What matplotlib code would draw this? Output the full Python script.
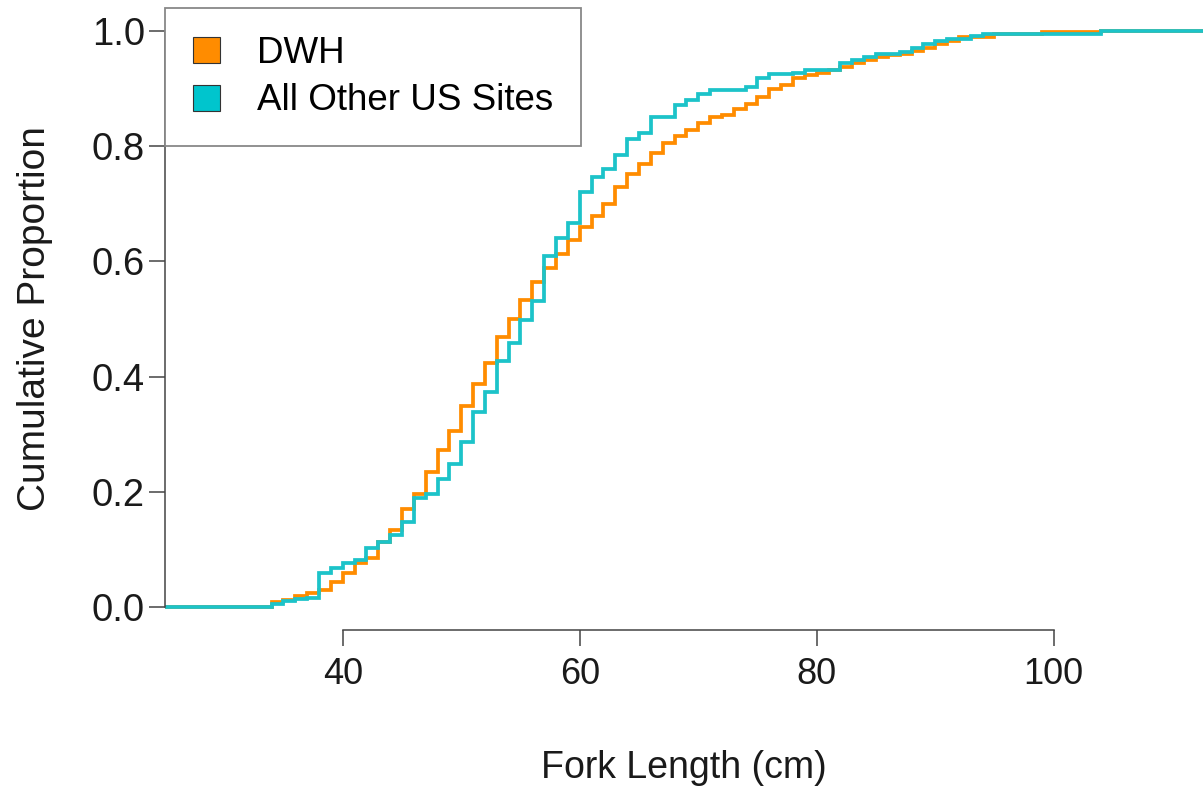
import numpy as np
import matplotlib
matplotlib.use("Agg")
from matplotlib import pyplot as plt
from matplotlib.patches import Patch

plt.rcParams['font.family'] = ['Liberation Sans', 'DejaVu Sans']

# fork length (cm) where each ECDF steps up, and the cumulative proportion after the step
dwh_len = [34, 35, 36, 37, 38, 39, 40, 41, 42, 43, 44, 45, 46, 47, 48, 49, 50,
           51, 52, 53, 54, 55, 56, 57, 58, 59, 60, 61, 62, 63, 64, 65, 66, 67,
           68, 69, 70, 71, 72, 73, 74, 75, 76, 77, 78, 79, 80, 81, 82, 83, 84,
           85, 86, 87, 88, 89, 90, 91, 92, 95, 99, 104]
dwh_cum = [0.009, 0.012, 0.019, 0.025, 0.030, 0.044, 0.059, 0.076, 0.085, 0.112,
           0.134, 0.170, 0.196, 0.235, 0.273, 0.305, 0.349, 0.388, 0.424, 0.468,
           0.500, 0.533, 0.565, 0.588, 0.612, 0.638, 0.660, 0.678, 0.700, 0.730,
           0.752, 0.770, 0.789, 0.805, 0.818, 0.828, 0.840, 0.851, 0.855, 0.865,
           0.874, 0.885, 0.900, 0.906, 0.918, 0.924, 0.928, 0.932, 0.937, 0.945,
           0.950, 0.955, 0.958, 0.960, 0.965, 0.970, 0.978, 0.983, 0.990, 0.995,
           0.998, 1.000]

other_len = [34, 35, 36, 37, 38, 39, 40, 41, 42, 43, 44, 45, 46, 47, 48, 49, 50,
             51, 52, 53, 54, 55, 56, 57, 58, 59, 60, 61, 62, 63, 64, 65, 66, 68,
             69, 70, 71, 74, 75, 76, 78, 79, 82, 83, 84, 85, 87, 88, 89, 90, 91,
             93, 94, 104]
other_cum = [0.005, 0.011, 0.014, 0.016, 0.059, 0.068, 0.076, 0.082, 0.103, 0.112,
             0.125, 0.147, 0.190, 0.196, 0.223, 0.249, 0.287, 0.339, 0.374, 0.427,
             0.458, 0.499, 0.531, 0.610, 0.641, 0.666, 0.721, 0.746, 0.760, 0.784,
             0.813, 0.823, 0.850, 0.872, 0.881, 0.891, 0.897, 0.902, 0.919, 0.925,
             0.928, 0.933, 0.944, 0.949, 0.955, 0.960, 0.964, 0.971, 0.977, 0.982,
             0.987, 0.991, 0.995, 1.000]

orange = '#FF8C00'
teal = '#1CC3C9'

fig = plt.figure(figsize=(12.03, 7.88), dpi=100)
ax = fig.add_axes([165/1203, 1-630/788, 1038/1203, 622/788])
xmin, xmax = 25, 112.6
ax.set_xlim(xmin, xmax)
ax.set_ylim(-0.04, 1.04)

# pad each curve out to the plot edges like R's plot.ecdf
for lens, cum, col in [(dwh_len, dwh_cum, orange), (other_len, other_cum, teal)]:
    xs = [xmin - 5] + list(lens) + [xmax + 5]
    ys = [0.0] + list(cum) + [1.0]
    ax.step(xs, ys, where='post', color=col, lw=2.7, solid_joinstyle='miter')

for s in ['top', 'right']:
    ax.spines[s].set_visible(False)
ax.spines['left'].set_bounds(0, 1)
ax.spines['bottom'].set_bounds(40, 100)
for s in ['left', 'bottom']:
    ax.spines[s].set_color('#444444')
    ax.spines[s].set_linewidth(1.1)

ax.set_xticks([40, 60, 80, 100])
ax.set_yticks(np.arange(0, 1.01, 0.2))
ax.set_yticklabels(['%.1f' % v for v in np.arange(0, 1.01, 0.2)])
ax.tick_params(axis='both', direction='out', length=11.5, width=1.1,
               color='#444444', labelcolor='#1a1a1a')
ax.tick_params(axis='x', pad=8, labelsize=26)
ax.tick_params(axis='y', pad=3, labelsize=27.5)

ax.set_xlabel('Fork Length (cm)', fontsize=27, color='#1a1a1a', labelpad=42)
ax.set_ylabel('Cumulative Proportion', fontsize=28, color='#1a1a1a', labelpad=28)

handles = [Patch(facecolor=orange, edgecolor='#333333', lw=0.8, label='DWH'),
           Patch(facecolor='#00C5CD', edgecolor='#333333', lw=0.8, label='All Other US Sites')]
leg = ax.legend(handles=handles, loc='upper left', bbox_to_anchor=(0, 1),
                borderaxespad=0, fontsize=26.5, handlelength=0.75, handleheight=0.72,
                handletextpad=1.0, borderpad=0.75, labelspacing=0.35,
                fancybox=False, framealpha=1)
leg.get_frame().set_edgecolor('#888888')
leg.get_frame().set_linewidth(1.3)

fig.savefig('out.png', dpi=100)
